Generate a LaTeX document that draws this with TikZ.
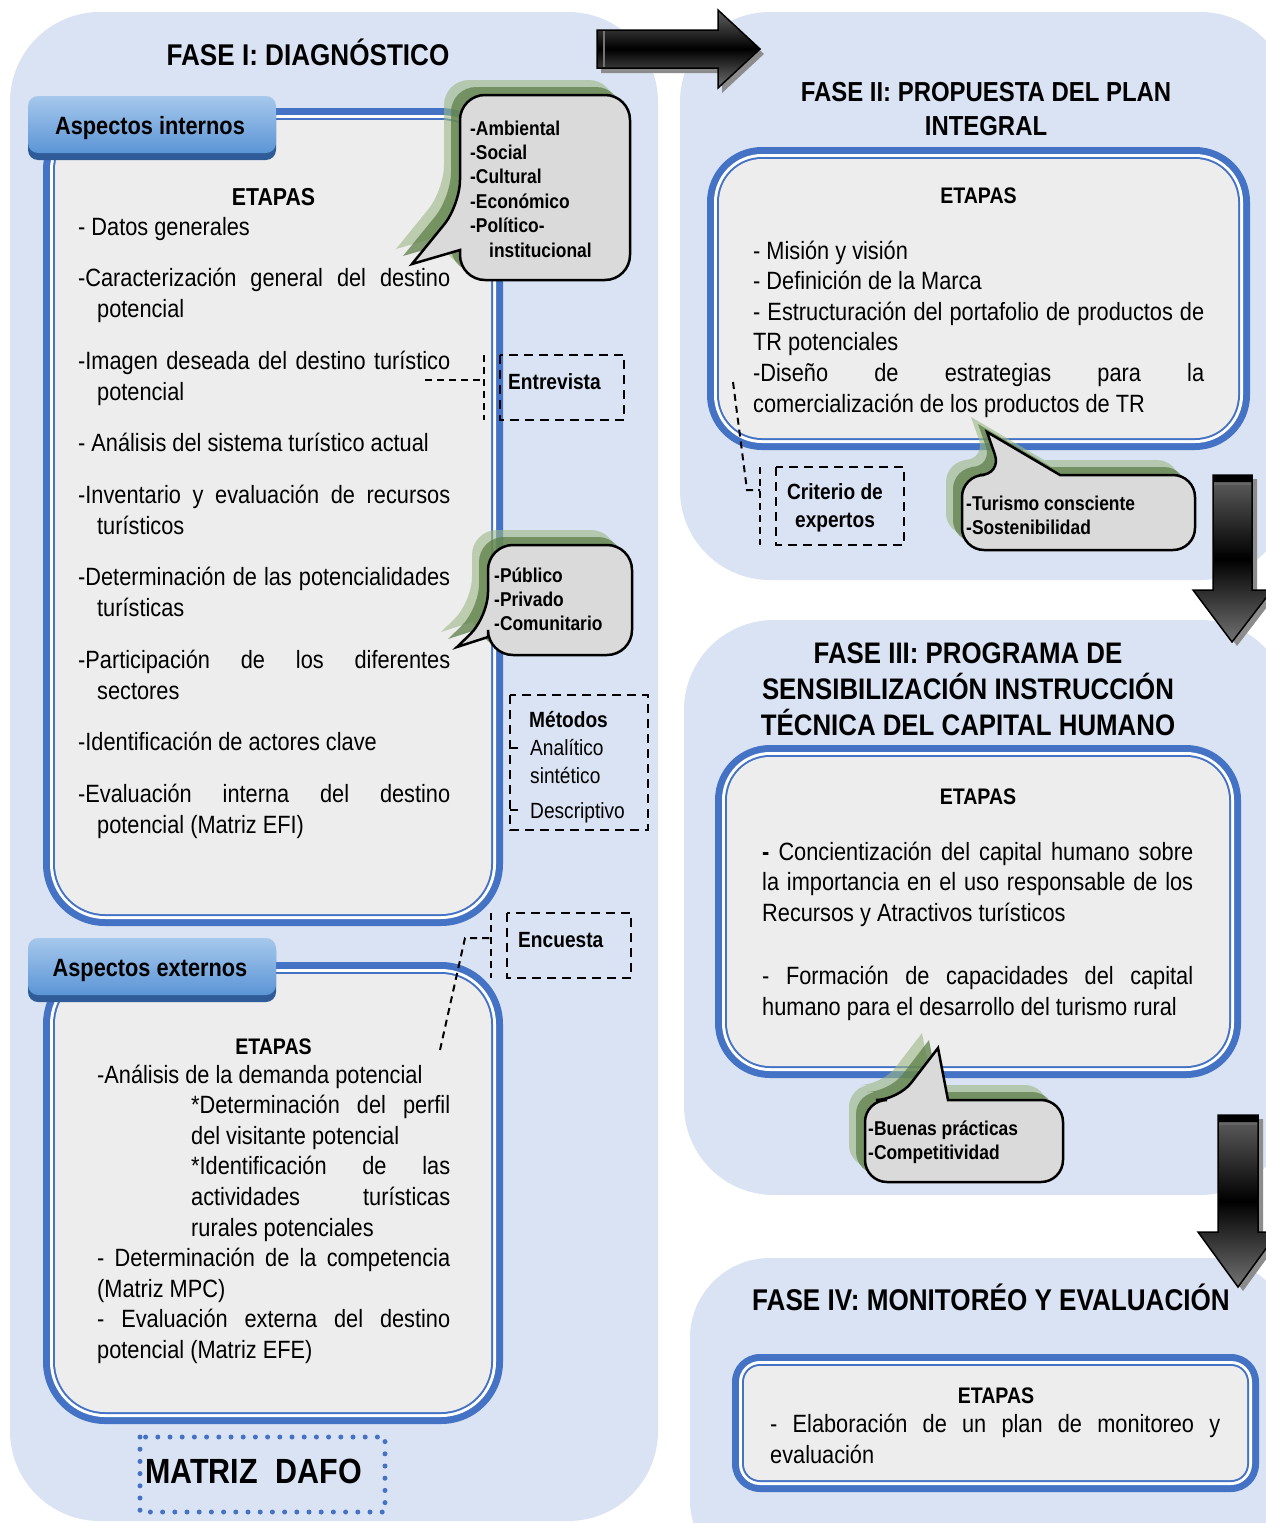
\documentclass[tikz,border=0pt]{standalone}
\usepackage{fontspec}
\setmainfont{Liberation Sans}[FakeStretch=0.87]
\definecolor{panel}{HTML}{DAE3F3}
\definecolor{bbl}{HTML}{4472C4}
\definecolor{boxg}{HTML}{EDEDED}
\definecolor{bubg}{HTML}{DADADA}
\definecolor{gshL}{HTML}{9CB784}
\definecolor{gshD}{HTML}{5E7F48}
\definecolor{tabtop}{HTML}{A6C8EC}
\definecolor{tabbot}{HTML}{5B95D6}
\definecolor{tabdk}{HTML}{2F5C99}
\tikzset{
 gshl/.style={fill=gshL, fill opacity=0.6},
 gshd/.style={fill=gshD, fill opacity=0.75},
 cbub/.style={fill=bubg, draw=black, line width=2.5},
 dbox/.style={draw=black, line width=2.5, dash pattern=on 9pt off 6pt},
 lead/.style={draw=black, line width=2, dash pattern=on 7pt off 5pt},
 tx/.style={inner sep=0, anchor=base west, font=\fontsize{25}{30.6}\selectfont},
 sm/.style={inner sep=0, anchor=base west, font=\fontsize{22}{28}\selectfont},
 smb/.style={inner sep=0, anchor=base west, font=\fontsize{22}{28}\selectfont\bfseries},
 bub/.style={inner sep=0, anchor=base west, font=\fontsize{20}{24.4}\selectfont\bfseries},
 ttl/.style={inner sep=0, anchor=base, font=\fontsize{30}{36}\selectfont\bfseries},
 etp/.style={inner sep=0, anchor=base, font=\fontsize{22.5}{27}\selectfont\bfseries},
 tabt/.style={inner sep=0, anchor=base, font=\fontsize{25}{30}\selectfont\bfseries},
 arrsh/.style={fill=black!45},
 arrow/.style={top color=black!62, bottom color=black!55, middle color=black},
}
\newcommand\dblbox[5]{%
 \pgfmathsetmacro\rA{#5-7}\pgfmathsetmacro\rB{#5-10}\pgfmathsetmacro\rC{#5-12}%
 \fill[bbl, rounded corners=#5] (#1,#2) rectangle (#3,#4);
 \fill[white, rounded corners=\rA] ({#1+7},{#2+7}) rectangle ({#3-7},{#4-7});
 \fill[bbl, rounded corners=\rB] ({#1+10},{#2+10}) rectangle ({#3-10},{#4-10});
 \fill[boxg, rounded corners=\rC] ({#1+12},{#2+12}) rectangle ({#3-12},{#4-12});
}
% callout with pointer on the left edge: x1 y1 x2 y2 baseUpper baseLower tipx tipy
\newcommand\bubL[8]{%
 \path[gshl, shift={(-16,-15)}] (#1,#6) [rounded corners=25] -- (#1,#4) -- (#3,#4) -- (#3,#2) -- (#1,#2) -- (#1,#5) [sharp corners] -- (#7,#8) -- cycle;
 \path[gshd, shift={(-9,-8)}] (#1,#6) [rounded corners=25] -- (#1,#4) -- (#3,#4) -- (#3,#2) -- (#1,#2) -- (#1,#5) [sharp corners] -- (#7,#8) -- cycle;
 \path[cbub] (#1,#6) [rounded corners=25] -- (#1,#4) -- (#3,#4) -- (#3,#2) -- (#1,#2) -- (#1,#5) [sharp corners] -- (#7,#8) -- cycle;
}
% callout with pointer on the top edge: x1 y1 x2 y2 baseLeft baseRight tipx tipy
\newcommand\bubT[8]{%
 \path[gshl, shift={(-16,-15)}] (#6,#2) [rounded corners=22] -- (#3,#2) -- (#3,#4) -- (#1,#4) -- (#1,#2) -- (#5,#2) [sharp corners] -- (#7,#8) -- cycle;
 \path[gshd, shift={(-9,-8)}] (#6,#2) [rounded corners=22] -- (#3,#2) -- (#3,#4) -- (#1,#4) -- (#1,#2) -- (#5,#2) [sharp corners] -- (#7,#8) -- cycle;
 \path[cbub] (#6,#2) [rounded corners=22] -- (#3,#2) -- (#3,#4) -- (#1,#4) -- (#1,#2) -- (#5,#2) [sharp corners] -- (#7,#8) -- cycle;
}
\begin{document}
\begin{tikzpicture}[x=1pt,y=-1pt]
\useasboundingbox (0,0) rectangle (1266,1523);
\fill[white] (0,0) rectangle (1266,1523);
% panels
\fill[panel, rounded corners=90] (10,12) rectangle (658,1521);
\fill[panel, rounded corners=90] (680,12) rectangle (1290,580);
\fill[panel, rounded corners=90] (684,620) rectangle (1290,1195);
\fill[panel, rounded corners=80] (690,1258) rectangle (1290,1580);
% boxes
\dblbox{43}{108}{503}{926}{62}
\dblbox{43}{962}{503}{1424}{62}
\dblbox{707}{147}{1250}{450}{55}
\dblbox{715}{745}{1241}{1078}{55}
\dblbox{732}{1354}{1259}{1492}{28}
% tabs
\fill[tabdk, rounded corners=10] (28,99) rectangle (276,160);
\shade[top color=tabtop, bottom color=tabbot, rounded corners=10] (28,96) rectangle (276,153);
\fill[tabdk, rounded corners=10] (28,941) rectangle (276,1002);
\shade[top color=tabtop, bottom color=tabbot, rounded corners=10] (28,938) rectangle (276,995);
% arrows
\fill[arrsh, shift={(4,5)}] (597,30) -- (718,30) -- (718,10) -- (760,49) -- (718,88) -- (718,68) -- (597,68) -- cycle;
\shade[arrow, draw=black, line width=1.5] (597,30) -- (718,30) -- (718,10) -- (760,49) -- (718,88) -- (718,68) -- (597,68) -- cycle;
\draw[black!55, line width=1.5] (604,31) -- (604,67);
\fill[arrsh, shift={(5,4)}] (1213,475) -- (1252,475) -- (1252,590) -- (1272,590) -- (1232,642) -- (1193,590) -- (1213,590) -- cycle;
\shade[arrow, draw=black, line width=1.5] (1213,475) -- (1252,475) -- (1252,590) -- (1272,590) -- (1232,642) -- (1193,590) -- (1213,590) -- cycle;
\fill[black] (1213,475) rectangle (1252,482);
\draw[black!60, line width=1.5] (1214,484) -- (1251,484);
\fill[arrsh, shift={(5,4)}] (1218,1115) -- (1258,1115) -- (1258,1232) -- (1278,1232) -- (1238,1287) -- (1198,1232) -- (1218,1232) -- cycle;
\shade[arrow, draw=black, line width=1.5] (1218,1115) -- (1258,1115) -- (1258,1232) -- (1278,1232) -- (1238,1287) -- (1198,1232) -- (1218,1232) -- cycle;
\fill[black] (1218,1115) rectangle (1258,1122);
\draw[black!60, line width=1.5] (1219,1124) -- (1257,1124);
% callouts
\bubL{460}{95}{630}{280}{205}{250}{412}{264}
\bubL{488}{545}{632}{655}{617}{637}{457}{647}
\bubT{962}{475}{1195}{550}{1002}{1060}{987}{432}
\bubT{865}{1100}{1063}{1182}{898}{948}{938}{1048}
% dashed boxes and leaders
\draw[dbox] (500,355) rectangle (624,420);
\draw[dbox] (510,695) rectangle (648,830);
\draw[dbox] (507,913) rectangle (631,978);
\draw[dbox] (776,467) rectangle (904,545);
\draw[lead] (425,380) -- (484,380);
\draw[lead] (484,355) -- (484,420);
\draw[lead] (440,1050) -- (465,938) -- (491,938);
\draw[lead] (491,913) -- (491,978);
\draw[lead] (733,382) -- (747,490) -- (760,490);
\draw[lead] (760,467) -- (760,545);
\draw[line width=2] (510,748) -- (518,748);
\draw[line width=2] (510,810) -- (518,810);
\draw[bbl, line width=5, line cap=round, dash pattern=on 0pt off 12.2pt] (140,1437) rectangle (385,1512);
% titles
\node[ttl] (t1) at (308,65) {FASE I: DIAGNÓSTICO};
\node[ttl, font=\fontsize{27.5}{34}\selectfont\bfseries] (t2) at (986,101) {\parbox[t]{420pt}{\centering FASE II: PROPUESTA DEL PLAN\\INTEGRAL}};
\node[ttl, font=\fontsize{29.7}{36}\selectfont\bfseries] (t3) at (968,663) {\parbox[t]{460pt}{\centering FASE III: PROGRAMA DE\\SENSIBILIZACIÓN INSTRUCCIÓN\\TÉCNICA DEL CAPITAL HUMANO}};
\node[ttl] (t4) at (991,1310) {FASE IV: MONITORÉO Y EVALUACIÓN};
% tabs text
\node[tabt] (tabi) at (150,134) {Aspectos internos};
\node[tabt] (tabe) at (150,976) {Aspectos externos};
% ETAPAS
\node[etp, font=\fontsize{24.5}{30}\selectfont\bfseries] (e1) at (273.5,205) {ETAPAS};
\node[etp] (e2) at (273.5,1054) {ETAPAS};
\node[etp] (e3) at (978.5,203) {ETAPAS};
\node[etp] (e4) at (978,804) {ETAPAS};
\node[etp] (e5) at (996,1403) {ETAPAS};
% internal text
\node[tx, font=\fontsize{25}{31}\selectfont] (tint) at (78,235) {\parbox[t]{372pt}{%
- Datos generales\\[20.5pt]
\makebox[372pt][s]{-Caracterización general del destino}\\
\hspace*{19pt}potencial\\[20.5pt]
\makebox[372pt][s]{-Imagen deseada del destino turístico}\\
\hspace*{19pt}potencial\\[20.5pt]
- Análisis del sistema turístico actual\\[20.5pt]
\makebox[372pt][s]{-Inventario y evaluación de recursos}\\
\hspace*{19pt}turísticos\\[20.5pt]
\makebox[372pt][s]{-Determinación de las potencialidades}\\
\hspace*{19pt}turísticas\\[20.5pt]
\makebox[372pt][s]{-Participación de los diferentes}\\
\hspace*{19pt}sectores\\[20.5pt]
-Identificación de actores clave\\[20.5pt]
\makebox[372pt][s]{-Evaluación interna del destino}\\
\hspace*{19pt}potencial (Matriz EFI)}};
% external text
\node[tx] (text) at (97,1083) {\parbox[t]{353pt}{%
-Análisis de la demanda potencial\\
\hspace*{94pt}\makebox[259pt][s]{*Determinación del perfil}\\
\hspace*{94pt}del visitante potencial\\
\hspace*{94pt}\makebox[259pt][s]{*Identificación de las}\\
\hspace*{94pt}\makebox[259pt][s]{actividades turísticas}\\
\hspace*{94pt}rurales potenciales\\
\makebox[353pt][s]{- Determinación de la competencia}\\
(Matriz MPC)\\
\makebox[353pt][s]{- Evaluación externa del destino}\\
potencial (Matriz EFE)}};
% fase II text
\node[tx] (tf2) at (753,259) {\parbox[t]{451pt}{%
- Misión y visión\\
- Definición de la Marca\\
\makebox[451pt][s]{- Estructuración del portafolio de productos de}\\
TR potenciales\\
\makebox[451pt][s]{-Diseño de estrategias para la}\\
comercialización de los productos de TR}};
% fase III text
\node[tx] (tf3) at (762,860) {\parbox[t]{431pt}{%
\makebox[431pt][s]{\textbf{-} Concientización del capital humano sobre}\\
\makebox[431pt][s]{la importancia en el uso responsable de los}\\
Recursos y Atractivos turísticos\\[33pt]
\makebox[431pt][s]{- Formación de capacidades del capital}\\
humano para el desarrollo del turismo rural}};
% fase IV text
\node[tx, font=\fontsize{25}{31}\selectfont] (tf4) at (770,1432) {\parbox[t]{450pt}{%
\makebox[450pt][s]{- Elaboración de un plan de monitoreo y}\\
evaluación}};
% callout texts
\node[bub] (b1) at (470,135) {\parbox[t]{160pt}{-Ambiental\\-Social\\-Cultural\\-Económico\\-Político-\\\hspace*{19pt}institucional}};
\node[bub] (b2) at (494,582) {\parbox[t]{140pt}{-Público\\-Privado\\-Comunitario}};
\node[bub] (b3) at (966,510) {\parbox[t]{225pt}{-Turismo consciente\\-Sostenibilidad}};
\node[bub] (b4) at (868,1135) {\parbox[t]{190pt}{-Buenas prácticas\\-Competitividad}};
% dashed-box texts
\node[smb] (ent) at (508,389) {Entrevista};
\node[smb] (enc) at (518,947) {Encuesta};
\node[smb, anchor=base] (cri) at (835,499) {\parbox[t]{130pt}{\centering Criterio de\\expertos}};
\node[smb] (met) at (529,727) {Métodos};
\node[sm] (me1) at (530,755) {\parbox[t]{120pt}{Analítico\\sintético}};
\node[sm] (me2) at (530,818) {Descriptivo};
\node[inner sep=0, anchor=base west, font=\fontsize{35}{40}\selectfont\bfseries] (dafo) at (145,1483) {MATRIZ\hspace{18pt}DAFO};
\end{tikzpicture}
\end{document}
